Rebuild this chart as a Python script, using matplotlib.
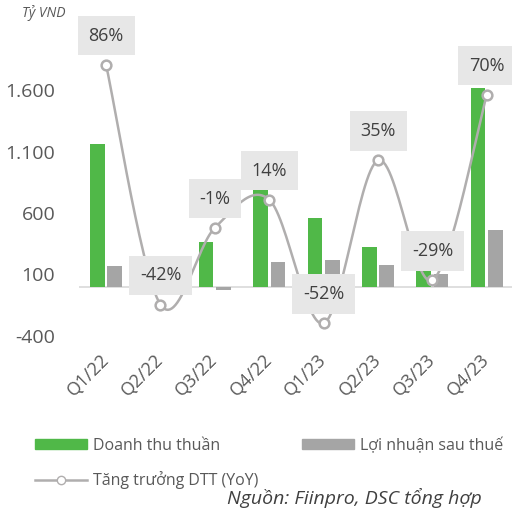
import numpy as np
import matplotlib.pyplot as plt
from matplotlib.lines import Line2D
from matplotlib.patches import Patch

plt.rcParams['font.family'] = ['Open Sans', 'DejaVu Sans']

quarters = ['Q1/22', 'Q2/22', 'Q3/22', 'Q4/22', 'Q1/23', 'Q2/23', 'Q3/23', 'Q4/23']
revenue = [1160, 0, 365, 810, 560, 325, 200, 1620]
profit = [170, 0, -25, 200, 220, 180, 100, 460]
growth = [86, -42, -1, 14, -52, 35, -29, 70]

green = '#50b848'
grey_bar = '#a5a5a5'
grey_line = '#b0aeae'
text_col = '#595959'

fig = plt.figure(figsize=(5.12, 5.12), dpi=100)
ax = fig.add_axes([0.154, 0.344, 0.85, 0.6])
ax2 = ax.twinx()

x = np.arange(len(quarters))
w = 0.27
ax.bar(x - 0.16, revenue, w, color=green, zorder=2)
ax.bar(x + 0.16, profit, w, color=grey_bar, zorder=2)
ax.axhline(0, color='#d9d9d9', lw=1.2, zorder=1)

ax.set_xlim(-0.5, len(quarters) - 0.5)
ax.set_ylim(-400, 2100)
ax.set_yticks([-400, 100, 600, 1100, 1600])
ax.set_yticklabels(['-400', '100', '600', '1.100', '1.600'])
ax.set_xticks(x)
ax.set_xticklabels(quarters, rotation=45, ha='right', va='center', rotation_mode='anchor')
ax.tick_params(axis='y', length=0, labelsize=14, labelcolor=text_col, pad=17)
ax.tick_params(axis='x', length=0, labelsize=13, labelcolor=text_col, pad=15)
for s in ax.spines.values():
    s.set_visible(False)

# smoothed growth line (Catmull-Rom, in pixel-like scale)
ax2.set_ylim(-58.7, 105.3)
ax2.axis('off')
sx, sy = 54.4, 1.875
px = x * sx
py = np.array(growth) * sy
P = np.column_stack([px, py])
P = np.vstack([P[0], P, P[-1]])
curve = []
for i in range(1, len(P) - 2):
    p0, p1, p2, p3 = P[i - 1], P[i], P[i + 1], P[i + 2]
    c1 = p1 + (p2 - p0) / 6
    c2 = p2 - (p3 - p1) / 6
    t = np.linspace(0, 1, 30)[:, None]
    seg = (1 - t) ** 3 * p1 + 3 * (1 - t) ** 2 * t * c1 + 3 * (1 - t) * t ** 2 * c2 + t ** 3 * p2
    curve.append(seg)
curve = np.vstack(curve)
ax2.plot(curve[:, 0] / sx, curve[:, 1] / sy, color=grey_line, lw=1.8, zorder=3)
ax2.plot(x, growth, 'o', ms=7, mfc='white', mec=grey_line, mew=1.8, zorder=4)
for xi, g in zip(x, growth):
    ax2.annotate(f'{g}%', (xi, g), xytext=(0, 21), textcoords='offset points',
                 ha='center', va='center', fontsize=13, color='#404040', zorder=5,
                 bbox=dict(boxstyle='square,pad=0.6', fc='#e7e7e7', ec='none'))

fig.text(0.043, 0.974, 'Tỷ VND', fontsize=10, style='italic', color=text_col, va='center')

handles = [Patch(color=green),
           Line2D([], [], color=grey_line, lw=1.8, marker='o', ms=6, mfc='white', mec=grey_line),
           Patch(color=grey_bar)]
labels = ['Doanh thu thuần', 'Tăng trưởng DTT (YoY)', 'Lợi nhuận sau thuế']
fig.legend(handles, labels, ncol=2, mode='expand', loc='lower left',
           bbox_to_anchor=(0.055, 0.032, 0.94, 0.13), frameon=False, fontsize=11.5,
           handlelength=3.3, handleheight=0.6, handletextpad=0.35, labelspacing=1.1,
           labelcolor=text_col, borderaxespad=0)

fig.text(0.94, 0.028, 'Nguồn: Fiinpro, DSC tổng hợp', ha='right', va='center',
         fontsize=14, style='italic', color='#404040')

fig.savefig('out.png', dpi=100)
